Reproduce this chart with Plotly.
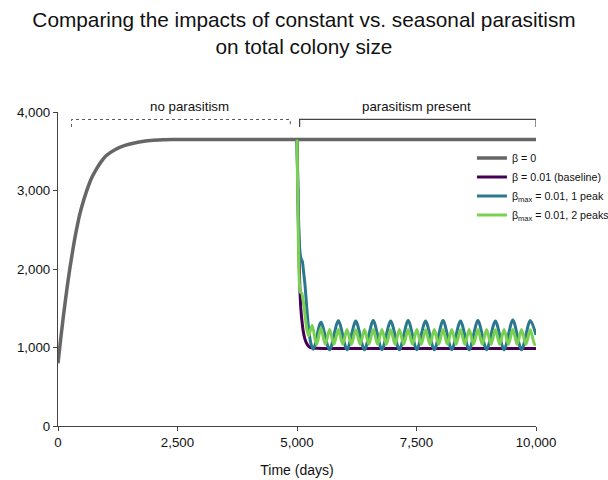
import plotly.graph_objects as go

# ---- data ----
gray_t = [0, 50, 100, 150, 200, 250, 300, 350, 400, 450, 500, 600, 700, 800, 900, 1000,
          1200, 1400, 1600, 1800, 2000, 2200, 2400, 3000, 4000, 5000, 6000, 7000, 8000, 9000, 10000]
gray_n = [800, 1075, 1333, 1577, 1805, 2015, 2205, 2386, 2540, 2683, 2800, 2995, 3156, 3270, 3365, 3440,
          3523, 3574, 3606, 3627, 3639, 3647, 3650, 3650, 3650, 3650, 3650, 3650, 3650, 3650, 3650]

base_t = [5000, 5020, 5040, 5060, 5080, 5100, 5130, 5160, 5200, 5250, 5300, 5400, 5600, 10000]
base_n = [3650, 2900, 2250, 1760, 1500, 1360, 1210, 1120, 1055, 1012, 996, 989, 988, 988]

one_t = [5000, 5030, 5060, 5085, 5110, 5140, 5170, 5210, 5250, 5300, 5345,
         5500, 5682, 5865, 6047, 6230, 6412, 6595, 6777, 6960, 7142, 7325, 7507,
         7690, 7872, 8055, 8237, 8420, 8602, 8785, 8967, 9150, 9332, 9515, 9697, 9880, 10000]
one_n = [3650, 2700, 2230, 2130, 2100, 1950, 1780, 1460, 1200, 1030, 978,
         1322, 970, 1342, 972, 1336, 970, 1344, 972, 1338, 970, 1344, 972,
         1338, 970, 1344, 972, 1338, 970, 1344, 972, 1338, 970, 1350, 970, 1345, 1160]

two_t = [5000, 5025, 5050, 5070, 5100, 5130, 5170, 5210, 5245,
         5317, 5408, 5500, 5591, 5682, 5773, 5865, 5956, 6047, 6138, 6230, 6321, 6412, 6503,
         6595, 6686, 6777, 6868, 6960, 7051, 7142, 7233, 7325, 7416, 7507, 7598, 7690, 7781,
         7872, 7963, 8055, 8146, 8237, 8328, 8420, 8511, 8602, 8693, 8785, 8876, 8967, 9058,
         9150, 9241, 9332, 9423, 9515, 9606, 9697, 9788, 9880, 9971, 10000]
two_n = [3650, 2500, 1820, 1710, 1690, 1600, 1400, 1220, 1150,
         1285, 1035, 1245, 1040, 1230, 1040, 1228, 1040, 1230, 1040, 1226, 1040, 1230, 1040,
         1228, 1040, 1230, 1040, 1226, 1040, 1230, 1040, 1228, 1040, 1230, 1040, 1226, 1040,
         1230, 1040, 1228, 1040, 1230, 1040, 1226, 1040, 1230, 1040, 1228, 1040, 1230, 1040,
         1226, 1040, 1230, 1040, 1228, 1040, 1230, 1040, 1226, 1040, 1048]

series_names = ["β = 0", "β = 0.01 (baseline)",
                "β<sub>max</sub> = 0.01, 1 peak", "β<sub>max</sub> = 0.01, 2 peaks"]
series_colors = ["#666666", "#440154", "#2a788e", "#7ad151"]

y_ticks = [0, 1000, 2000, 3000, 4000]
x_ticks = [0, 2500, 5000, 7500, 10000]

FONT = "Liberation Sans, Arial, sans-serif"

fig = go.Figure()
fig.add_trace(go.Scatter(x=gray_t, y=gray_n, mode="lines", name=series_names[0],
                         line=dict(color=series_colors[0], width=3.5, shape="spline", smoothing=0.6)))
fig.add_trace(go.Scatter(x=base_t, y=base_n, mode="lines", name=series_names[1],
                         line=dict(color=series_colors[1], width=3, shape="spline", smoothing=0.6)))
fig.add_trace(go.Scatter(x=one_t, y=one_n, mode="lines", name=series_names[2],
                         line=dict(color=series_colors[2], width=3, shape="spline", smoothing=0.8)))
fig.add_trace(go.Scatter(x=two_t, y=two_n, mode="lines", name=series_names[3],
                         line=dict(color=series_colors[3], width=3, shape="spline", smoothing=0.8)))

# brackets
fig.add_shape(type="path", xref="x", yref="y",
              path="M 282,3810 L 282,3905 L 4860,3905 L 4860,3810",
              line=dict(color="#555555", width=1, dash="dot"))
fig.add_shape(type="path", xref="x", yref="y",
              path="M 5055,3810 L 5055,3905 L 10000,3905 L 10000,3810",
              line=dict(color="#444444", width=1.2))
fig.add_annotation(x=2750, y=1.017, xref="x", yref="paper", text="no parasitism",
                   showarrow=False, yanchor="middle",
                   font=dict(size=13.3, color="#111111", family=FONT))
fig.add_annotation(x=7500, y=1.017, xref="x", yref="paper", text="parasitism present",
                   showarrow=False, yanchor="middle",
                   font=dict(size=13.3, color="#111111", family=FONT))

fig.update_layout(
    width=608, height=480,
    margin=dict(l=58, r=72, t=112, b=54, autoexpand=False),
    paper_bgcolor="white", plot_bgcolor="white",
    font=dict(family=FONT, color="#111111", size=13.3),
    title=dict(text="Comparing the impacts of constant vs. seasonal parasitism<br>on total colony size",
               x=0.5, xref="container", xanchor="center",
               y=0.943, yref="container", yanchor="top",
               font=dict(size=20.8, color="#111111", family=FONT)),
    showlegend=True,
    legend=dict(x=0.866, xanchor="left", y=0.9, yanchor="top",
                font=dict(size=10.7, family=FONT, color="#111111"),
                bgcolor="rgba(0,0,0,0)", borderwidth=0),
    xaxis=dict(range=[0, 10000], tickvals=x_ticks, tickformat=",", ticks="outside", ticklen=4,
               showline=True, linecolor="#444444", linewidth=1.2, tickcolor="#444444",
               tickfont=dict(size=13.3, family=FONT),
               showgrid=False, zeroline=False,
               title=dict(text="Time (days)", standoff=16, font=dict(size=14, family=FONT))),
    yaxis=dict(range=[0, 4000], tickvals=y_ticks, tickformat=",", ticks="outside", ticklen=4,
               showline=True, linecolor="#444444", linewidth=1.2, tickcolor="#444444",
               tickfont=dict(size=13.3, family=FONT),
               showgrid=False, zeroline=False),
)

fig.write_html("out.html", config={"displayModeBar": False},
               post_script="document.body.style.margin='0px';document.body.style.overflow='hidden';")
